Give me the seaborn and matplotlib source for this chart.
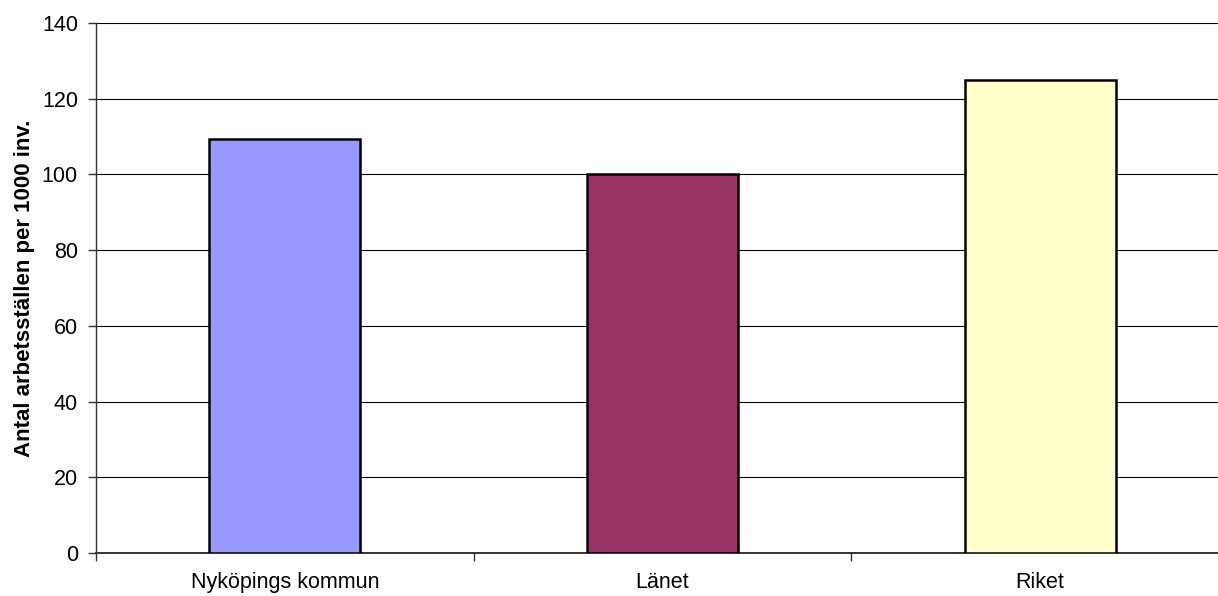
import matplotlib
matplotlib.use("Agg")
import matplotlib.pyplot as plt
import seaborn as sns
import pandas as pd

categories = ["Nyköpings kommun", "Länet", "Riket"]
values = [109.3, 100.0, 125.0]
colors = ["#9999FF", "#993366", "#FFFFCC"]
yticks = [0, 20, 40, 60, 80, 100, 120, 140]
ylabel = "Antal arbetsställen per 1000 inv."

sns.set_style("white")
plt.rcParams['font.family'] = ['Liberation Sans', 'DejaVu Sans']
plt.rcParams['text.color'] = 'black'
plt.rcParams['axes.labelcolor'] = 'black'
plt.rcParams['xtick.color'] = 'black'
plt.rcParams['ytick.color'] = 'black'

df = pd.DataFrame({"cat": categories, "val": values})

fig = plt.figure(figsize=(12.18, 5.96), dpi=100)
ax = fig.add_axes([96/1218, 1-553/596, (1229-96)/1218, (553-23)/596])

sns.barplot(data=df, x="cat", y="val", hue="cat", palette=colors, order=categories,
            hue_order=categories, dodge=False, width=0.4, edgecolor="black",
            linewidth=1.8, saturation=1, legend=False, ax=ax, zorder=3)

ax.set_xlim(-0.5, 2.5)
ax.set_ylim(0, 140)
ax.set_yticks(yticks)
ax.yaxis.grid(True, color="black", linewidth=0.8, zorder=0)
ax.set_axisbelow(True)

for s in ["top", "right"]:
    ax.spines[s].set_visible(False)
ax.spines["left"].set_color("#333333")
ax.spines["left"].set_linewidth(1.0)
ax.spines["bottom"].set_color("#333333")
ax.spines["bottom"].set_linewidth(1.4)

ax.set_xticks([0, 1, 2])
ax.set_xticklabels(categories, fontsize=15.5)
ax.tick_params(axis="x", which="major", bottom=True, length=0, pad=14)
ax.set_xticks([-0.5, 0.5, 1.5, 2.5], minor=True)
ax.tick_params(axis="x", which="minor", bottom=True, length=6, width=1,
               color="#333333", direction="out")
ax.tick_params(axis="y", left=True, length=6, width=1, color="#333333",
               direction="out", labelsize=15.5, pad=7)

ax.set_xlabel("")
ax.set_ylabel(ylabel, fontsize=16, fontweight="bold", labelpad=5)

fig.savefig("out.png", dpi=100)
